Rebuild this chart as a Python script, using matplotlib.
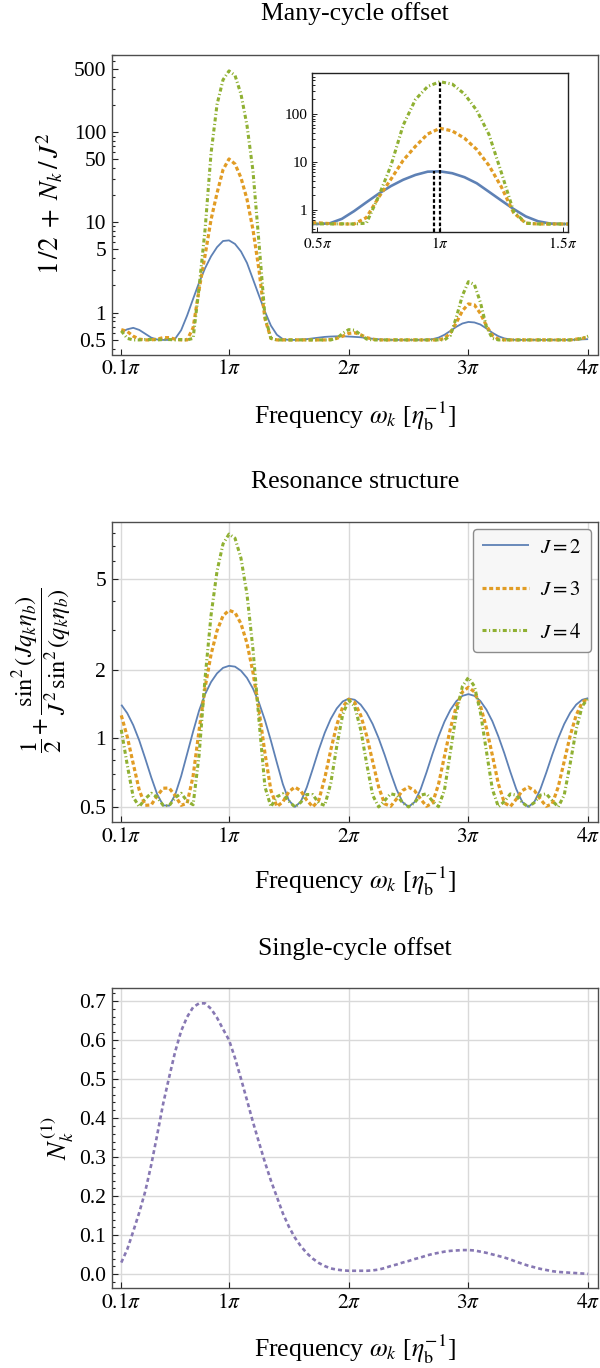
import matplotlib
matplotlib.use('Agg')
import matplotlib.pyplot as plt
from matplotlib.ticker import FixedLocator, FixedFormatter, NullFormatter

plt.rcParams['font.family'] = ['Liberation Serif', 'DejaVu Serif']
plt.rcParams['mathtext.fontset'] = 'stix'
plt.rcParams['lines.scale_dashes'] = False

# ---------------- data (frequency in units of pi) ----------------
omega = [0.10, 0.15, 0.20, 0.25, 0.30, 0.35, 0.40, 0.45, 0.50, 0.55,
         0.60, 0.65, 0.70, 0.75, 0.80, 0.85, 0.90, 0.95, 1.00, 1.05,
         1.10, 1.15, 1.20, 1.25, 1.30, 1.35, 1.40, 1.45, 1.50, 1.55,
         1.60, 1.65, 1.70, 1.75, 1.80, 1.85, 1.90, 1.95, 2.00, 2.05,
         2.10, 2.15, 2.20, 2.25, 2.30, 2.35, 2.40, 2.45, 2.50, 2.55,
         2.60, 2.65, 2.70, 2.75, 2.80, 2.85, 2.90, 2.95, 3.00, 3.05,
         3.10, 3.15, 3.20, 3.25, 3.30, 3.35, 3.40, 3.45, 3.50, 3.55,
         3.60, 3.65, 3.70, 3.75, 3.80, 3.85, 3.90, 3.95, 4.00]

# Panel 1: many-cycle offset 1/2 + N_k/J^2
many_J2 = [0.61, 0.655, 0.68, 0.645, 0.585, 0.53, 0.505, 0.50, 0.50, 0.515,
           0.64, 0.93, 1.42, 2.15, 3.1, 4.2, 5.3, 6.2, 6.3, 5.75,
           4.75, 3.55, 2.35, 1.55, 1.03, 0.72, 0.57, 0.51, 0.50, 0.50,
           0.505, 0.51, 0.52, 0.53, 0.54, 0.545, 0.548, 0.548, 0.545, 0.54,
           0.535, 0.525, 0.515, 0.508, 0.503, 0.50, 0.50, 0.50, 0.50, 0.50,
           0.50, 0.503, 0.51, 0.53, 0.57, 0.63, 0.70, 0.76, 0.79, 0.78,
           0.74, 0.67, 0.60, 0.55, 0.52, 0.505, 0.50, 0.50, 0.50, 0.50,
           0.50, 0.50, 0.50, 0.50, 0.50, 0.50, 0.503, 0.507, 0.51]
many_J3 = [0.65, 0.62, 0.55, 0.51, 0.50, 0.50, 0.51, 0.53, 0.53, 0.51,
           0.50, 0.50, 0.68, 1.8, 4.3, 10.7, 21.0, 38.0, 50.0, 44.0,
           31.0, 18.0, 8.3, 3.0, 0.86, 0.52, 0.50, 0.50, 0.50, 0.50,
           0.50, 0.50, 0.50, 0.50, 0.50, 0.505, 0.52, 0.55, 0.59, 0.60,
           0.57, 0.53, 0.51, 0.50, 0.50, 0.50, 0.50, 0.50, 0.50, 0.50,
           0.50, 0.50, 0.50, 0.50, 0.52, 0.60, 0.78, 1.05, 1.25, 1.22,
           0.98, 0.72, 0.56, 0.51, 0.50, 0.50, 0.50, 0.50, 0.50, 0.50,
           0.50, 0.50, 0.50, 0.50, 0.50, 0.50, 0.51, 0.52, 0.54]
many_J4 = [0.63, 0.52, 0.50, 0.50, 0.505, 0.505, 0.50, 0.505, 0.505, 0.50,
           0.505, 0.50, 0.52, 1.9, 8.3, 58.0, 200.0, 375.0, 470.0, 420.0,
           260.0, 118.0, 37.0, 6.0, 0.92, 0.52, 0.50, 0.50, 0.50, 0.50,
           0.50, 0.50, 0.50, 0.50, 0.50, 0.50, 0.52, 0.59, 0.65, 0.64,
           0.57, 0.51, 0.50, 0.50, 0.50, 0.50, 0.50, 0.50, 0.50, 0.50,
           0.50, 0.50, 0.50, 0.50, 0.50, 0.56, 0.90, 1.55, 2.20, 2.05,
           1.30, 0.70, 0.52, 0.50, 0.50, 0.50, 0.50, 0.50, 0.50, 0.50,
           0.50, 0.50, 0.50, 0.50, 0.50, 0.50, 0.505, 0.52, 0.55]
# inset markers (peak positions / heights)
marker_pos = [0.974, 1.0]
marker_top = [6.3, 470.0]

# Panel 2: resonance structure
res_J2 = [1.404, 1.289, 1.142, 0.979, 0.816, 0.675, 0.568, 0.508, 0.506, 0.565,
          0.682, 0.854, 1.070, 1.323, 1.561, 1.766, 1.928, 2.038, 2.080, 2.063,
          1.979, 1.841, 1.653, 1.435, 1.201, 0.976, 0.781, 0.629, 0.534, 0.500,
          0.527, 0.610, 0.735, 0.891, 1.058, 1.217, 1.352, 1.451, 1.494, 1.476,
          1.405, 1.294, 1.155, 1.000, 0.846, 0.706, 0.596, 0.525, 0.500, 0.525,
          0.596, 0.709, 0.855, 1.018, 1.184, 1.335, 1.457, 1.536, 1.563, 1.536,
          1.458, 1.337, 1.189, 1.021, 0.860, 0.713, 0.598, 0.525, 0.500, 0.525,
          0.596, 0.706, 0.846, 1.000, 1.155, 1.294, 1.405, 1.476, 1.500]
res_J3 = [1.261, 1.016, 0.773, 0.593, 0.508, 0.510, 0.559, 0.604, 0.605, 0.561,
          0.508, 0.519, 0.682, 1.084, 1.669, 2.335, 2.967, 3.449, 3.645, 3.563,
          3.185, 2.616, 1.950, 1.334, 0.862, 0.591, 0.502, 0.526, 0.583, 0.611,
          0.588, 0.535, 0.500, 0.535, 0.669, 0.888, 1.144, 1.374, 1.484, 1.436,
          1.262, 1.026, 0.791, 0.611, 0.516, 0.503, 0.542, 0.590, 0.611, 0.590,
          0.542, 0.503, 0.520, 0.628, 0.835, 1.108, 1.387, 1.598, 1.675, 1.598,
          1.391, 1.113, 0.843, 0.631, 0.522, 0.502, 0.541, 0.590, 0.611, 0.590,
          0.542, 0.503, 0.516, 0.611, 0.791, 1.026, 1.262, 1.436, 1.500]
res_J4 = [1.090, 0.764, 0.552, 0.501, 0.543, 0.574, 0.551, 0.508, 0.506, 0.549,
          0.574, 0.530, 0.511, 0.843, 1.836, 3.471, 5.419, 7.129, 7.872, 7.556,
          6.170, 4.294, 2.467, 1.208, 0.613, 0.501, 0.554, 0.571, 0.530, 0.500,
          0.524, 0.567, 0.566, 0.519, 0.508, 0.635, 0.922, 1.274, 1.470, 1.382,
          1.092, 0.774, 0.563, 0.500, 0.533, 0.571, 0.563, 0.522, 0.500, 0.522,
          0.563, 0.571, 0.530, 0.501, 0.593, 0.875, 1.297, 1.691, 1.848, 1.691,
          1.304, 0.880, 0.598, 0.501, 0.528, 0.570, 0.563, 0.522, 0.500, 0.522,
          0.563, 0.571, 0.533, 0.500, 0.563, 0.774, 1.092, 1.382, 1.500]

# Panel 3: single-cycle offset N_k^(1)
single = [0.030, 0.064, 0.110, 0.158, 0.212, 0.280, 0.357, 0.437, 0.505, 0.570,
          0.623, 0.659, 0.684, 0.694, 0.694, 0.680, 0.657, 0.628, 0.600, 0.554,
          0.501, 0.446, 0.390, 0.338, 0.287, 0.240, 0.198, 0.156, 0.122, 0.094,
          0.072, 0.054, 0.040, 0.029, 0.021, 0.015, 0.012, 0.010, 0.009, 0.009,
          0.009, 0.009, 0.010, 0.012, 0.016, 0.021, 0.025, 0.030, 0.034, 0.039,
          0.043, 0.048, 0.052, 0.055, 0.058, 0.060, 0.061, 0.062, 0.062, 0.061,
          0.058, 0.055, 0.051, 0.047, 0.043, 0.038, 0.032, 0.027, 0.022, 0.018,
          0.014, 0.011, 0.008, 0.006, 0.005, 0.004, 0.003, 0.002, 0.001]

labels_J = ['$J=2$', '$J=3$', '$J=4$']
xtick_pos = [0.1, 1, 2, 3, 4]
xtick_lab = [r'$0.1\pi$', r'$1\pi$', r'$2\pi$', r'$3\pi$', r'$4\pi$']

# ---------------- styles ----------------
BLUE, ORANGE, GREEN, PURPLE = '#5E81B5', '#E19C24', '#8FB032', '#8778B3'
sty = [dict(color=BLUE, lw=1.3, solid_capstyle='butt'),
       dict(color=ORANGE, lw=2.3, dashes=(2.9, 1.9)),
       dict(color=GREEN, lw=2.2, dashes=(2.9, 1.8, 0.8, 1.8))]
FRAME = '#4d4d4d'
GRID = '#d9d9d9'
TICK_FS = 15.5

W, H = 600, 1368
fig = plt.figure(figsize=(W / 100, H / 100), dpi=100)


def add_ax(l, t, r, b):
    return fig.add_axes([l / W, 1 - b / H, (r - l) / W, (b - t) / H])


def style_ax(ax, labelsize=TICK_FS):
    for s in ax.spines.values():
        s.set_color(FRAME)
        s.set_linewidth(1.0)
    ax.tick_params(which='both', direction='in', top=False, right=False,
                   color='#222222', width=0.8, labelsize=labelsize, pad=4)
    ax.tick_params(which='major', length=4)
    ax.tick_params(which='minor', length=2.3)


def log_minor(lo, hi):
    vals = []
    d = 0.1
    while d < 10000:
        for m in range(1, 10):
            v = m * d
            if lo <= v <= hi:
                vals.append(v)
        d *= 10
    return vals


def xaxis_pi(ax):
    ax.set_xlim(0.02, 4.08)
    ax.xaxis.set_major_locator(FixedLocator(xtick_pos))
    ax.xaxis.set_major_formatter(FixedFormatter(xtick_lab))
    ax.xaxis.set_minor_locator(FixedLocator([]))


left_px, right_px = 111.7, 597.7
xc = (left_px + right_px) / 2 / W

# ---------------- Panel 1 ----------------
ax1 = add_ax(left_px, 55, right_px, 354.5)
style_ax(ax1)
series_many = [many_J2, many_J3, many_J4]
for ys, st in zip(series_many, sty):
    ax1.plot(omega, ys, **st)
ax1.set_yscale('log')
ax1.set_ylim(0.345, 705)
xaxis_pi(ax1)
y1_major = [0.5, 1, 5, 10, 50, 100, 500]
ax1.yaxis.set_major_locator(FixedLocator(y1_major))
ax1.yaxis.set_major_formatter(FixedFormatter(['0.5', '1', '5', '10', '50', '100', '500']))
ax1.yaxis.set_minor_locator(FixedLocator([v for v in log_minor(0.35, 700) if v not in y1_major]))
ax1.yaxis.set_minor_formatter(NullFormatter())

# inset
axi = add_ax(311.7, 73.3, 568.0, 231.7)
for s in axi.spines.values():
    s.set_color('#222222')
    s.set_linewidth(1.0)
axi.tick_params(which='both', direction='in', top=False, right=False,
                color='#222222', width=0.7, labelsize=11, pad=3)
axi.tick_params(which='major', length=3.5)
axi.tick_params(which='minor', length=2)
sty_in = [dict(sty[0], lw=1.9), sty[1], sty[2]]
for ys, st in zip(series_many, sty_in):
    axi.plot(omega, ys, **st)
axi.vlines(marker_pos, 0.345, marker_top, colors='black', lw=1.6,
           linestyles=[(0, (2.6, 1.6))])
axi.set_yscale('log')
axi.set_ylim(0.345, 705)
axi.set_xlim(0.477, 1.522)
axi.xaxis.set_major_locator(FixedLocator([0.5, 1.0, 1.5]))
axi.xaxis.set_major_formatter(FixedFormatter([r'$0.5\pi$', r'$1\pi$', r'$1.5\pi$']))
axi.xaxis.set_minor_locator(FixedLocator([]))
axi.yaxis.set_major_locator(FixedLocator([1, 10, 100]))
axi.yaxis.set_major_formatter(FixedFormatter(['1', '10', '100']))
axi.yaxis.set_minor_locator(FixedLocator([v for v in log_minor(0.35, 700) if v not in (1, 10, 100)]))
axi.yaxis.set_minor_formatter(NullFormatter())

# ---------------- Panel 2 ----------------
ax2 = add_ax(left_px, 522.3, right_px, 822.3)
style_ax(ax2)
series_res = [res_J2, res_J3, res_J4]
for ys, st, lab in zip(series_res, sty, labels_J):
    ax2.plot(omega, ys, label=lab, **st)
ax2.set_yscale('log')
ax2.set_ylim(0.428, 8.87)
xaxis_pi(ax2)
ax2.yaxis.set_major_locator(FixedLocator([0.5, 1, 2, 5]))
ax2.yaxis.set_major_formatter(FixedFormatter(['0.5', '1', '2', '5']))
ax2.yaxis.set_minor_locator(FixedLocator([0.6, 0.7, 0.8, 0.9, 3, 4, 6, 7, 8]))
ax2.yaxis.set_minor_formatter(NullFormatter())
ax2.grid(True, which='major', color=GRID, lw=1.0)
ax2.set_axisbelow(True)
leg = ax2.legend(loc='upper right', fontsize=15, handlelength=2.25,
                 handletextpad=0.55, labelspacing=1.1, borderpad=0.45,
                 borderaxespad=0.3, fancybox=True, framealpha=1.0)
leg.get_frame().set_facecolor('#f7f7f7')
leg.get_frame().set_edgecolor('#8c8c8c')
leg.get_frame().set_linewidth(1.0)

# ---------------- Panel 3 ----------------
ax3 = add_ax(left_px, 988.3, right_px, 1288.3)
style_ax(ax3)
ax3.plot(omega, single, color=PURPLE, lw=1.9, dashes=(2.9, 2.2))
ax3.set_ylim(-0.0359, 0.7325)
xaxis_pi(ax3)
y3_major = [0.0, 0.1, 0.2, 0.3, 0.4, 0.5, 0.6, 0.7]
ax3.yaxis.set_major_locator(FixedLocator(y3_major))
ax3.yaxis.set_major_formatter(FixedFormatter(['%.1f' % v for v in y3_major]))
ax3.yaxis.set_minor_locator(FixedLocator([-0.02 + 0.02 * i for i in range(38)]))
ax3.yaxis.set_minor_formatter(NullFormatter())
ax3.grid(True, which='major', color=GRID, lw=1.0)
ax3.set_axisbelow(True)

# ---------------- text ----------------
titles = ['Many-cycle offset', 'Resonance structure', 'Single-cycle offset']
title_base = [20, 488, 955]
xlab_base = [423.3, 889, 1356.7]
xlabel = r'Frequency $\omega_k$ [$\eta_{\mathrm{b}}^{-1}$]'
for t, tb, xb in zip(titles, title_base, xlab_base):
    fig.text(xc, 1 - tb / H, t, ha='center', va='baseline', fontsize=18.5)
    fig.text(xc, 1 - xb / H, xlabel, ha='center', va='baseline', fontsize=18.5)

fig.text(50 / W, 1 - 203 / H, r'$1\,/2\;+\;N_k\,/\,J^2$', rotation=90,
         ha='center', va='center', fontsize=19.5)
fig.text(42 / W, 1 - 670 / H,
         r'$\dfrac{1}{2}+\dfrac{\sin^2(J q_k \eta_b)}{J^2\,\sin^2(q_k \eta_b)}$',
         rotation=90, ha='center', va='center', fontsize=17.5)
fig.text(58 / W, 1 - 1138 / H, r'$N_k^{(1)}$', rotation=90,
         ha='center', va='center', fontsize=19)

fig.savefig('out.png', dpi=100)
